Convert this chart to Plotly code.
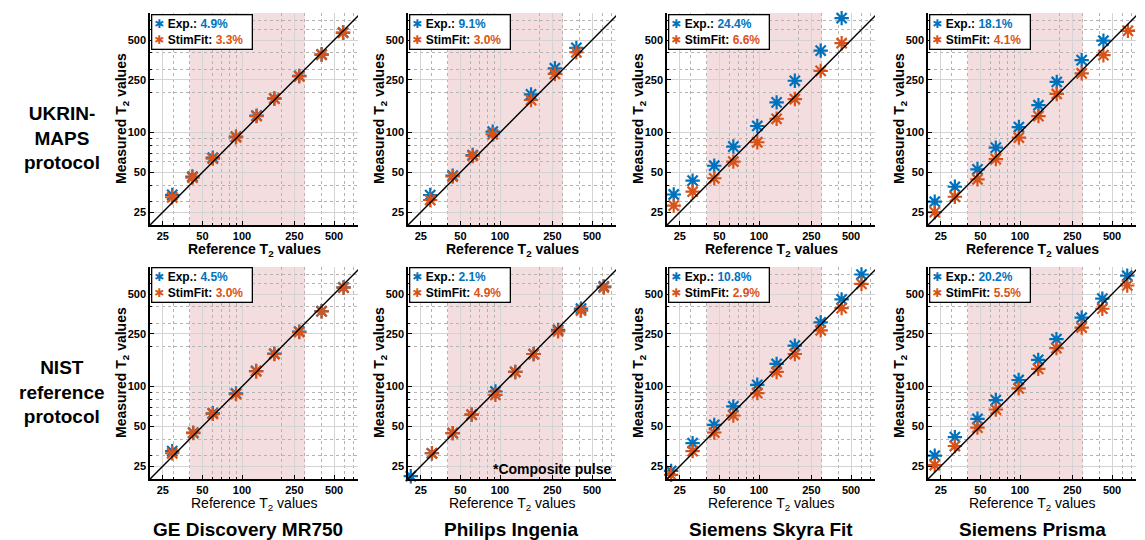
import math
import plotly.graph_objects as go

# ---------------- data ----------------
SCANNERS = ["GE Discovery MR750", "Philips Ingenia", "Siemens Skyra Fit", "Siemens Prisma"]
PROTOCOLS = ["UKRIN-<br>MAPS<br>protocol", "NIST<br>reference<br>protocol"]
TICKS = [25, 50, 100, 250, 500]
MINOR_TICKS = [20, 30, 40, 50, 60, 70, 80, 90, 200, 300, 400, 500, 600, 700, 800]
SHADE_RANGE = [40, 300]
X_LIMITS = [20, 760]
Y_LIMITS = [20, 800]
IDENTITY = [20, 800]

# UKRIN-MAPS protocol (top row)
ref_ukrin_ge = [29.5, 42, 60, 90, 129, 176, 272, 402, 585]
exp_ukrin_ge = [33.8, 46.5, 64.5, 93, 134, 181, 268, 390, 570]
stim_ukrin_ge = [32.4, 45.6, 63.5, 92, 133, 180, 266, 386, 567]

ref_ukrin_philips = [29.5, 43.7, 62, 88, 172, 261, 380]
exp_ukrin_philips = [33.7, 47.2, 67.6, 101.6, 194, 306, 436]
stim_ukrin_philips = [30.9, 46.5, 66.5, 97, 176, 277, 404]

ref_ukrin_skyra = [22.5, 31.3, 45.7, 63.8, 97, 136, 187, 294, 424]
exp_ukrin_skyra = [34, 43.3, 56.1, 78.3, 112, 169, 246, 416, 732]
stim_ukrin_skyra = [28, 35.7, 45.1, 60.2, 84.4, 127, 179, 292, 473]

ref_ukrin_prisma = [22.5, 32, 47.5, 65.5, 98, 138, 190, 294, 430, 660]
exp_ukrin_prisma = [30, 38.9, 52.7, 76.8, 110, 160.8, 241, 352, 494, None]
stim_ukrin_prisma = [25, 32.7, 44.3, 63, 91.5, 133, 195.6, 280, 384, 586]

# NIST reference protocol (bottom row)
ref_nist_ge = [29.5, 42.6, 60, 90, 128, 176, 272, 402, 590]
exp_nist_ge = [32.5, 44.8, 62.8, 88.6, 131, 177, 260, 371, 561]
stim_nist_ge = [31.3, 44.4, 62.1, 87.6, 130, 176, 258, 369, 558]

ref_nist_philips = [21, 30.4, 43.7, 60.9, 92.3, 130.6, 180, 276, 412, 614]
exp_nist_philips = [21, 31.3, 44.4, 61.2, 91.7, 128.8, 176, 268, 388, 570]
stim_nist_philips = [None, 31.3, 44.4, 61.2, 86.5, 128.8, 176, 261, 375, 560]

ref_nist_skyra = [21.5, 31.3, 45.7, 63.8, 97, 136, 187, 294, 424, 600]
exp_nist_skyra = [23, 37.3, 51.3, 70.7, 103, 148, 203.5, 305, 455, 702]
stim_nist_skyra = [21.5, 32.5, 44.9, 60.4, 89.2, 128.8, 176, 266, 391, 597]

ref_nist_prisma = [22.5, 32, 47.5, 65.5, 97.6, 137.5, 189, 294, 422, 652]
exp_nist_prisma = [30, 41.4, 57, 78.9, 112, 159, 228, 331, 461, 687]
stim_nist_prisma = [25.5, 35.5, 48.9, 67, 96.8, 136, 195, 279, 387, 580]

err_exp_ukrin = [4.9, 9.1, 24.4, 18.1]
err_stim_ukrin = [3.3, 3.0, 6.6, 4.1]
err_exp_nist = [4.5, 2.1, 10.8, 20.2]
err_stim_nist = [3.0, 4.9, 2.9, 5.5]

PANELS = [
    [(ref_ukrin_ge, exp_ukrin_ge, stim_ukrin_ge),
     (ref_ukrin_philips, exp_ukrin_philips, stim_ukrin_philips),
     (ref_ukrin_skyra, exp_ukrin_skyra, stim_ukrin_skyra),
     (ref_ukrin_prisma, exp_ukrin_prisma, stim_ukrin_prisma)],
    [(ref_nist_ge, exp_nist_ge, stim_nist_ge),
     (ref_nist_philips, exp_nist_philips, stim_nist_philips),
     (ref_nist_skyra, exp_nist_skyra, stim_nist_skyra),
     (ref_nist_prisma, exp_nist_prisma, stim_nist_prisma)],
]
ERRORS = [(err_exp_ukrin, err_stim_ukrin), (err_exp_nist, err_stim_nist)]

# ---------------- style ----------------
OFF = 8                      # page body margin of the html output
W, H = 1145 - OFF, 540 - OFF
FONT = "Liberation Sans, Arial, DejaVu Sans, sans-serif"
BLUE = "#0072BD"
ORANGE = "#D95319"
SHADE = "#F3DDDF"
COL_LEFT = [150, 408, 667, 928]
PANEL_W = 208
ROWS_PX = [(13, 225), (267, 479)]
NAME_X = [248, 511, 771, 1032]


def px(xs):
    return (xs - OFF) / W


def py(ys):
    return 1 - (ys - OFF) / H


fig = go.Figure()
layout = dict(
    width=W, height=H, margin=dict(l=0, r=0, t=0, b=0),
    paper_bgcolor="white", plot_bgcolor="white",
    font=dict(family=FONT, color="black"), showlegend=False,
)
annotations = []
shapes = []

for r in range(2):
    top, bot = ROWS_PX[r]
    for c in range(4):
        k = r * 4 + c + 1
        xa = "x" if k == 1 else f"x{k}"
        ya = "y" if k == 1 else f"y{k}"
        xl = "xaxis" if k == 1 else f"xaxis{k}"
        yl = "yaxis" if k == 1 else f"yaxis{k}"
        left = COL_LEFT[c]
        ref, ex, st = PANELS[r][c]

        axis_common = dict(
            type="log", tickvals=TICKS, ticktext=[str(t) for t in TICKS],
            showgrid=True, gridcolor="#D4D4D4", gridwidth=1,
            minor=dict(tickvals=MINOR_TICKS, showgrid=True, gridcolor="#B3B3B3",
                       griddash="dot", gridwidth=1, ticks="inside", ticklen=2,
                       tickcolor="black"),
            showline=True, linecolor="black", linewidth=1.5,
            ticks="inside", ticklen=4, tickcolor="black", tickwidth=1,
            zeroline=False, fixedrange=True,
            tickfont=dict(family=FONT, size=11, color="black", weight="bold"),
        )
        layout[xl] = dict(axis_common, domain=[px(left), px(left + PANEL_W)],
                          range=[math.log10(X_LIMITS[0]), math.log10(X_LIMITS[1])],
                          anchor=ya)
        layout[yl] = dict(axis_common, domain=[py(bot), py(top)],
                          range=[math.log10(Y_LIMITS[0]), math.log10(Y_LIMITS[1])],
                          anchor=xa)

        shapes.append(dict(type="rect", xref=xa, yref=f"{ya} domain",
                           x0=SHADE_RANGE[0], x1=SHADE_RANGE[1], y0=0, y1=1,
                           fillcolor=SHADE, line=dict(width=0), layer="below"))

        fig.add_trace(go.Scatter(
            x=ref, y=ex, mode="markers", xaxis=xa, yaxis=ya, cliponaxis=False,
            marker=dict(symbol="asterisk-open", size=12, color=BLUE,
                        line=dict(color=BLUE, width=2.2)), name="Exp."))
        fig.add_trace(go.Scatter(
            x=ref, y=st, mode="markers", xaxis=xa, yaxis=ya, cliponaxis=False,
            marker=dict(symbol="asterisk-open", size=12, color=ORANGE,
                        line=dict(color=ORANGE, width=2.2)), name="StimFit"))
        fig.add_trace(go.Scatter(
            x=IDENTITY, y=IDENTITY, mode="lines", xaxis=xa, yaxis=ya,
            line=dict(color="black", width=1.5), hoverinfo="skip"))

        # legend-like box
        e_exp, e_st = ERRORS[r][0][c], ERRORS[r][1][c]
        txt = (f"<span style='color:{BLUE}'>✱</span> Exp.: "
               f"<span style='color:{BLUE}'>{e_exp:.1f}%</span><br>"
               f"<span style='color:{ORANGE}'>✱</span> StimFit: "
               f"<span style='color:{ORANGE}'>{e_st:.1f}%</span>&nbsp;&nbsp;")
        annotations.append(dict(
            text=txt, xref="paper", yref="paper", x=px(left + 1), y=py(top + 0.5),
            xanchor="left", yanchor="top", showarrow=False, align="left",
            bordercolor="black", borderwidth=1.3, borderpad=2, bgcolor="white",
            font=dict(family=FONT, size=12, color="black", weight="bold")))

        # axis titles
        annotations.append(dict(
            text="Reference T<sub>2</sub> values", xref="paper", yref="paper",
            x=px(left + PANEL_W / 2), y=py(bot + 25), xanchor="center",
            yanchor="middle", showarrow=False,
            font=dict(family=FONT, size=14, color="black",
                      weight="bold" if r == 0 else "normal")))
        annotations.append(dict(
            text="Measured T<sub>2</sub> values", xref="paper", yref="paper",
            x=px(left - 28), y=py((top + bot) / 2), xanchor="center",
            yanchor="middle", showarrow=False, textangle=-90,
            font=dict(family=FONT, size=14, color="black", weight="bold")))

# row labels
for r, lab in enumerate(PROTOCOLS):
    top, bot = ROWS_PX[r]
    annotations.append(dict(
        text=lab, xref="paper", yref="paper", x=px(62), y=py((top + bot) / 2 + 19),
        xanchor="center", yanchor="middle", showarrow=False, align="center",
        font=dict(family=FONT, size=19, color="black", weight="bold")))

# scanner names
for c, name in enumerate(SCANNERS):
    annotations.append(dict(
        text=name, xref="paper", yref="paper", x=px(NAME_X[c]), y=py(529),
        xanchor="center", yanchor="middle", showarrow=False,
        font=dict(family=FONT, size=19, color="black", weight="bold")))

# composite pulse note
annotations.append(dict(
    text="*Composite pulse", xref="paper", yref="paper",
    x=px(COL_LEFT[1] + PANEL_W - 3), y=py(469), xanchor="right", yanchor="middle",
    showarrow=False, font=dict(family=FONT, size=14, color="black", weight="bold")))

layout["annotations"] = annotations
layout["shapes"] = shapes
fig.update_layout(**layout)
fig.write_html("out.html")
